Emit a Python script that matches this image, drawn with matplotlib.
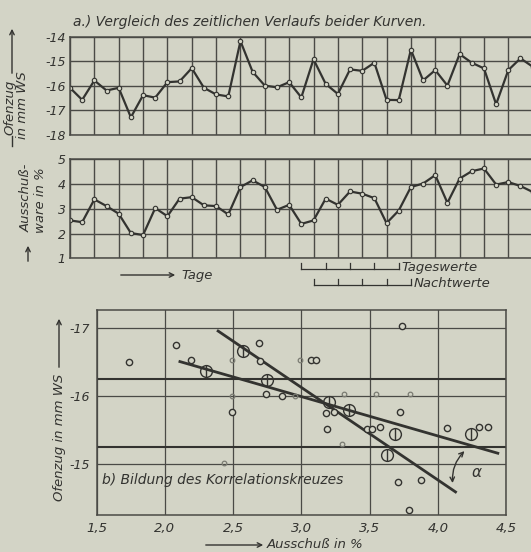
import numpy as np
import matplotlib
matplotlib.use("Agg")
import matplotlib.pyplot as plt

W, H = 531, 552
PAPER = "#d3d4c6"
INK = "#333330"
GRID = "#4a4a46"
FAINT = "#7a7b72"
FONT = ["Liberation Sans Narrow", "DejaVu Sans"]

# a) day / night values alternating, one point per half column
ofenzug = [-16.08, -16.57, -15.78, -16.19, -16.08, -17.28, -16.38, -16.48, -15.85,
           -15.82, -15.28, -16.08, -16.35, -16.43, -14.18, -15.43, -15.99, -16.06,
           -15.85, -16.47, -14.92, -15.92, -16.33, -15.33, -15.39, -15.06, -16.57,
           -16.58, -14.53, -15.78, -15.36, -15.99, -14.71, -15.06, -15.29, -16.75,
           -15.36, -14.88, -15.22]
ausschuss = [2.53, 2.46, 3.38, 3.11, 2.80, 2.02, 1.94, 3.03, 2.70, 3.41, 3.47, 3.14,
             3.11, 2.77, 3.88, 4.15, 3.88, 2.96, 3.16, 2.39, 2.53, 3.41, 3.16, 3.70,
             3.61, 3.43, 2.42, 2.93, 3.88, 4.02, 4.36, 3.24, 4.22, 4.52, 4.63, 3.98,
             4.08, 3.92, 3.68]
ofen_ticks = [-14, -15, -16, -17, -18]
aus_ticks = [1, 2, 3, 4, 5]

# b) scatter: Ausschuss (%) vs Ofenzug (mm WS)
small_x = [1.74, 2.08, 2.19, 2.69, 2.70, 2.74, 2.86, 2.49, 3.07, 3.11, 3.74, 3.18,
           3.24, 3.72, 3.19, 3.48, 3.52, 3.58, 4.07, 4.30, 4.37, 3.71, 3.88, 3.79]
small_y = [-16.51, -16.76, -16.53, -16.78, -16.52, -16.03, -16.00, -15.77, -16.54,
           -16.54, -17.04, -15.75, -15.77, -15.77, -15.52, -15.52, -15.52, -15.55,
           -15.53, -15.54, -15.55, -14.73, -14.76, -14.32]
big_x = [2.30, 2.57, 2.75, 3.20, 3.35, 3.69, 3.63, 4.24]
big_y = [-16.37, -16.67, -16.24, -15.92, -15.79, -15.44, -15.14, -15.45]
faint_x = [2.49, 2.99, 2.43, 2.95, 3.31, 3.55, 3.80, 3.30, 2.49]
faint_y = [-16.53, -16.54, -15.01, -16.00, -16.03, -16.03, -16.03, -15.29, -16.00]
steep_x = [2.39, 4.13]
steep_y = [-16.96, -14.59]
flat_x = [2.11, 4.44]
flat_y = [-16.51, -15.16]
cross_y = [-16.25, -15.25]
b_xticks = [1.5, 2.0, 2.5, 3.0, 3.5, 4.0, 4.5]
b_yticks = [-17, -16, -15]

TXT = dict(style="italic", family=FONT, color=INK)


def box(l, t, r, b):
    return [l / W, 1 - b / H, (r - l) / W, (b - t) / H]


def fx(x):
    return x / W


def fy(y):
    return 1 - y / H


def style(ax, pad=3):
    ax.set_facecolor(PAPER)
    for s in ax.spines.values():
        s.set_color(GRID); s.set_linewidth(1.1)
    ax.tick_params(length=0, colors=INK, pad=pad)


def arrow(x0, y0, x1, y1):
    fig.add_artist(matplotlib.patches.FancyArrowPatch(
        (fx(x0), fy(y0)), (fx(x1), fy(y1)), transform=fig.transFigure,
        arrowstyle="->", mutation_scale=8, color=INK, lw=1.0))


fig = plt.figure(figsize=(W / 100, H / 100), dpi=100, facecolor=PAPER)

# ---- a) time series, two stacked strips
xi = np.arange(len(ofenzug))
for pos, vals, lim, ticks in ((box(70, 36.7, 557, 135), ofenzug, (-18, -14), ofen_ticks),
                              (box(70, 159.3, 557, 258.3), ausschuss, (1, 5), aus_ticks)):
    ax = fig.add_axes(pos)
    style(ax)
    ax.plot(xi, vals, color=INK, lw=1.6, marker="o", ms=3.2, mfc=PAPER, mec=INK, mew=0.8)
    ax.set_xlim(0, 40); ax.set_ylim(*lim)
    ax.set_xticks(np.arange(0, 41, 2)); ax.set_xticklabels([])
    ax.set_yticks(ticks)
    ax.set_yticklabels([str(t) for t in ticks], fontsize=9, **TXT)
    ax.grid(True, color=GRID, lw=1.0)
    ax.set_axisbelow(True)
ax2 = ax

fig.text(fx(73), fy(22), "a.) Vergleich des zeitlichen Verlaufs beider Kurven.",
         fontsize=10, va="center", **TXT)

# y labels of the strips
fig.text(fx(10), fy(107), "Ofenzug", rotation=90, fontsize=9.5, ha="center", va="center", **TXT)
fig.text(fx(23), fy(105), "in mm WS", rotation=90, fontsize=9.5, ha="center", va="center", **TXT)
arrow(12, 76, 12, 26)
fig.add_artist(matplotlib.lines.Line2D([fx(12), fx(12)], [fy(136), fy(146)], color=INK, lw=1.0))

fig.text(fx(26), fy(198), "Ausschuß-", rotation=90, fontsize=9.5, ha="center", va="center", **TXT)
fig.text(fx(40), fy(200), "ware in %", rotation=90, fontsize=9.5, ha="center", va="center", **TXT)
arrow(28, 264, 28, 243)

# "Tage" arrow and day / night scale brackets
arrow(118, 275, 178, 275)
fig.text(fx(181), fy(275), "Tage", fontsize=9.5, va="center", **TXT)

day_ticks = np.arange(19, 28, 2)
night_ticks = day_ticks + 1
for ticks, yb, label in ((day_ticks, 0.57, "Tageswerte"), (night_ticks, -0.08, "Nachtwerte")):
    ax2.plot([ticks[0], ticks[-1]], [yb, yb], color=INK, lw=0.9, clip_on=False)
    for t in ticks:
        ax2.plot([t, t], [yb, yb + 0.25], color=INK, lw=0.9, clip_on=False)
    ax2.text(ticks[-1] + 0.2, yb + 0.05, label, fontsize=9.5, va="center",
             clip_on=False, **TXT)

# ---- b) correlation cross
ax3 = fig.add_axes(box(96.7, 310, 506, 515))
style(ax3, pad=5)
ax3.set_xlim(1.5, 4.5); ax3.set_ylim(-14.25, -17.27)
ax3.set_xticks(b_xticks)
ax3.set_xticklabels([f"{t:.1f}".replace(".", ",") for t in b_xticks], fontsize=9.5, **TXT)
ax3.set_yticks(b_yticks)
ax3.set_yticklabels([str(t) for t in b_yticks], fontsize=9, **TXT)
ax3.grid(True, color=GRID, lw=0.9)
for yc in cross_y:
    ax3.axhline(yc, color=INK, lw=1.5)
ax3.set_axisbelow(True)

ax3.plot(steep_x, steep_y, color=INK, lw=2.0)
ax3.plot(flat_x, flat_y, color=INK, lw=2.0)
ax3.plot(faint_x, faint_y, ls="none", marker="o", ms=3.3, mfc="none", mec=FAINT, mew=0.9)
ax3.plot(small_x, small_y, ls="none", marker="o", ms=4.5, mfc=PAPER, mec=INK, mew=1.0)
ax3.plot(big_x, big_y, ls="none", marker="o", ms=8.5, mfc="none", mec=INK, mew=1.0)
ax3.plot(big_x, big_y, ls="none", marker="|", ms=8.5, mec=INK, mew=1.0)

ax3.annotate("", xy=(4.21, -15.22), xytext=(4.11, -14.68),
             arrowprops=dict(arrowstyle="<->", color=INK, lw=1.0, mutation_scale=8,
                             connectionstyle="arc3,rad=-0.25"))
ax3.text(4.25, -14.88, "α", fontsize=11, style="italic", color=INK, va="center")
ax3.text(1.54, -14.76, "b) Bildung des Korrelationskreuzes", fontsize=10, va="center", **TXT)

fig.text(fx(59), fy(437), "Ofenzug in mm WS", rotation=90, fontsize=9.5,
         ha="center", va="center", **TXT)
arrow(59, 370, 59, 316)
arrow(203, 545, 266, 545)
fig.text(fx(267), fy(545), "Ausschuß in %", fontsize=9.5, va="center", **TXT)

fig.savefig("out.png", dpi=100, facecolor=PAPER)
